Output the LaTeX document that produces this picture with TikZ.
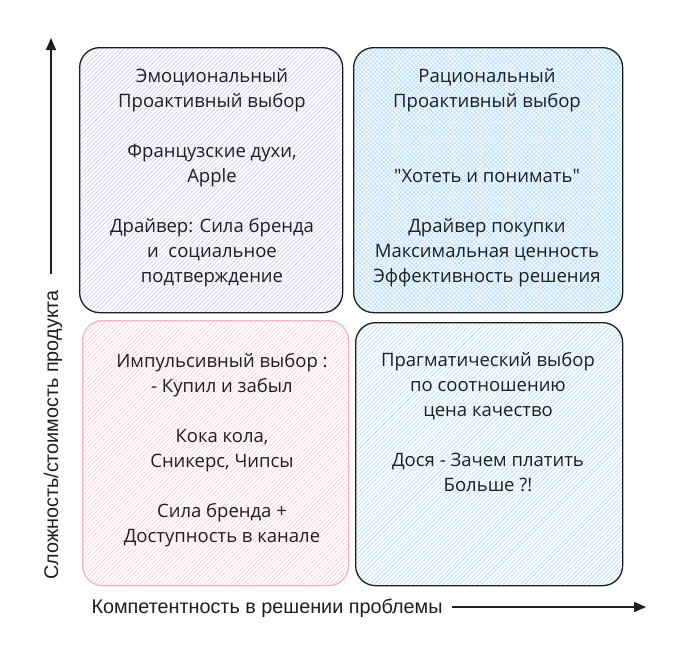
\documentclass[tikz,border=0pt]{standalone}
\usepackage{fontspec}
\setmainfont{Open Sans}
\newfontfamily\axisfont{Liberation Sans}
\usetikzlibrary{arrows.meta}
\definecolor{ink}{HTML}{1E1E1E}
\definecolor{violetH}{HTML}{D6D0FA}
\definecolor{blueH}{HTML}{BCE2FF}
\definecolor{pinkH}{HTML}{FFD3DE}
\definecolor{pinkS}{HTML}{F5B5C8}
\begin{document}
\begin{tikzpicture}[x=1pt,y=-1pt,
  quad/.style={draw=ink, line width=1.3pt, rounded corners=20pt, inner sep=0pt, anchor=north west},
  hatchne/.style={path picture={\foreach \k in {-130,...,130}{\draw[#1,line width=0.75pt] ([xshift=\k*4.3pt]path picture bounding box.south west) -- ++(400pt,400pt);}}},
  hatchnw/.style={path picture={\foreach \k in {-130,...,130}{\draw[#1,line width=0.75pt] ([xshift=\k*4.3pt]path picture bounding box.south west) -- ++(400pt,400pt);\draw[#1,line width=0.75pt] ([xshift=\k*4.3pt]path picture bounding box.south west) -- ++(-400pt,400pt);}}},
  qtext/.style={align=center, text=ink, font=\fontsize{18.5}{25}\selectfont},
  axislabel/.style={text=ink, font=\axisfont\fontsize{19.8}{22}\selectfont, inner sep=0pt},
  axis/.style={draw=ink, line width=1.2pt, -{Triangle[length=12pt,width=10pt]}}
]
\fill[white] (0,0) rectangle (684,659);
\useasboundingbox (0,0) rectangle (684,659);

\node[quad, hatchne=violetH, minimum width=263pt, minimum height=265pt] (qa) at (79,47) {};
\node[quad, hatchnw=blueH, minimum width=269pt, minimum height=265pt] (qb) at (353,47) {};
\node[quad, draw=pinkS, hatchne=pinkH, minimum width=266pt, minimum height=265pt] (qc) at (82,320) {};
\node[quad, hatchne=blueH, minimum width=267pt, minimum height=263pt] (qd) at (355,322) {};

\node[qtext] (ta) at (212,177.5) {Эмоциональный\\Проактивный выбор\\[25pt]Французские духи,\\Apple\\[25pt]Драйвер: Сила бренда\\и\ \ социальное\\подтверждение};
\node[qtext] (tb) at (487,177.5) {Рациональный\\Проактивный выбор\\[50pt]\textquotedbl Хотеть и понимать\textquotedbl\\[25pt]Драйвер покупки\\Максимальная ценность\\Эффективность решения};
\node[qtext] (tc) at (222,450.5) {Импульсивный выбор :\\- Купил и забыл\\[25pt]Кока кола,\\Сникерс, Чипсы\\[25pt]Сила бренда +\\Доступность в канале};
\node[qtext] (td) at (488,422.5) {Прагматический выбор\\по соотношению\\цена качество\\[25pt]Дося - Зачем платить\\Больше ?!};

\node[axislabel] (xl) at (267,608) {Компетентность в решении проблемы};
\coordinate (xs) at (452,607);
\coordinate (xe) at (646,607);
\draw[axis] (xs) -- (xe);

\node[axislabel, rotate=90] (yl) at (53,435) {Сложность/стоимость продукта};
\coordinate (ys) at (51,274);
\coordinate (ye) at (51,38);
\draw[axis] (ys) -- (ye);
\end{tikzpicture}
\end{document}
